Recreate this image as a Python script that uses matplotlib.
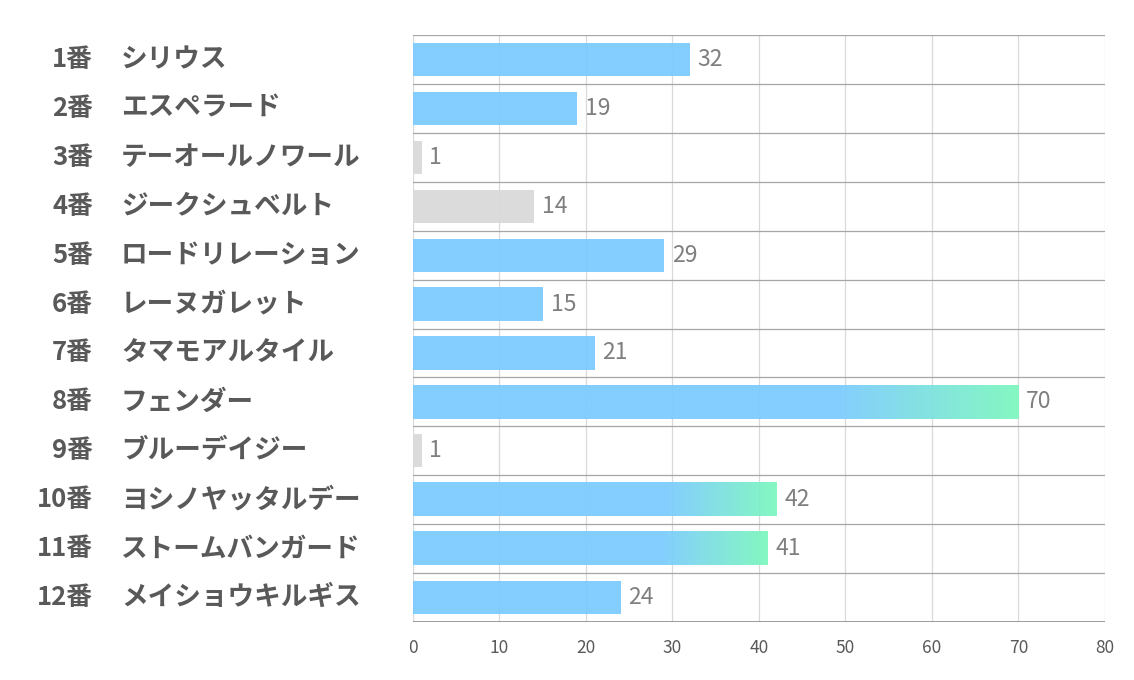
import matplotlib
matplotlib.use("Agg")
import matplotlib.pyplot as plt
import matplotlib.transforms as mtransforms
import numpy as np
from matplotlib.colors import LinearSegmentedColormap

plt.rcParams['font.family'] = ['Noto Sans CJK JP', 'DejaVu Sans']

# data
numbers = ['1番', '2番', '3番', '4番', '5番', '6番', '7番', '8番', '9番', '10番', '11番', '12番']
names = ['シリウス', 'エスペラード', 'テーオールノワール', 'ジークシュベルト', 'ロードリレーション',
         'レーヌガレット', 'タマモアルタイル', 'フェンダー', 'ブルーデイジー', 'ヨシノヤッタルデー',
         'ストームバンガード', 'メイショウキルギス']
values = [32, 19, 1, 14, 29, 15, 21, 70, 1, 42, 41, 24]
gray_rows = ['3番', '4番', '9番']
gradient_rows = ['8番', '10番', '11番']
xticks = [0, 10, 20, 30, 40, 50, 60, 70, 80]

blue = '#7ccbff'
green = '#7df7be'
gray = '#d9d9d9'
# solid blue for most of the bar, fading into green over the last 30%
grad_cmap = LinearSegmentedColormap.from_list('bg', [(0, blue), (0.7, blue), (1, green)])

fig = plt.figure(figsize=(11.34, 6.8), dpi=100)
ax = fig.add_axes([0.3642, 0.0853, 0.6102, 0.8632])

n = len(values)
ypos = np.arange(n)
bar_h = 0.68
bar_alpha = 0.94

for y, num, v in zip(ypos, numbers, values):
    if num in gray_rows:
        ax.barh(y, v, height=bar_h, color=gray, alpha=bar_alpha, zorder=2)
    elif num in gradient_rows:
        grad = np.linspace(0, 1, 512).reshape(1, -1)
        ax.imshow(grad, cmap=grad_cmap, aspect='auto', alpha=bar_alpha, zorder=2,
                  extent=[0, v, y + bar_h / 2, y - bar_h / 2], interpolation='bilinear')
    else:
        ax.barh(y, v, height=bar_h, color=blue, alpha=bar_alpha, zorder=2)
    ax.text(v + 0.9, y, str(v), va='center', ha='left', fontsize=16.5, color='#7f7f7f')

ax.set_xlim(0, 80)
ax.set_ylim(n - 0.5, -0.5)
ax.set_xticks(xticks)
ax.set_xticklabels([str(t) for t in xticks], fontsize=12.5, color='#595959')
ax.set_yticks([])
ax.tick_params(axis='x', length=0, pad=12)

# grid
for t in xticks:
    ax.axvline(t, color='#d9d9d9', lw=0.9, zorder=1)
for b in np.arange(-0.5, n, 1.0):
    ax.axhline(b, color='#a6a6a6', lw=0.9, zorder=1)
for s in ax.spines.values():
    s.set_visible(False)
ax.axhline(n - 0.5, color='#8c8c8c', lw=1.2, zorder=3)

# left labels
trans = mtransforms.blended_transform_factory(fig.transFigure, ax.transData)
for y, num, name in zip(ypos, numbers, names):
    ax.text(93 / 1134, y, num, transform=trans, ha='right', va='center',
            fontsize=18.5, fontweight='bold', color='#595959')
    ax.text(121 / 1134, y, name, transform=trans, ha='left', va='center',
            fontsize=19.2, fontweight='bold', color='#595959')

fig.savefig('out.png', dpi=100, facecolor='white')
